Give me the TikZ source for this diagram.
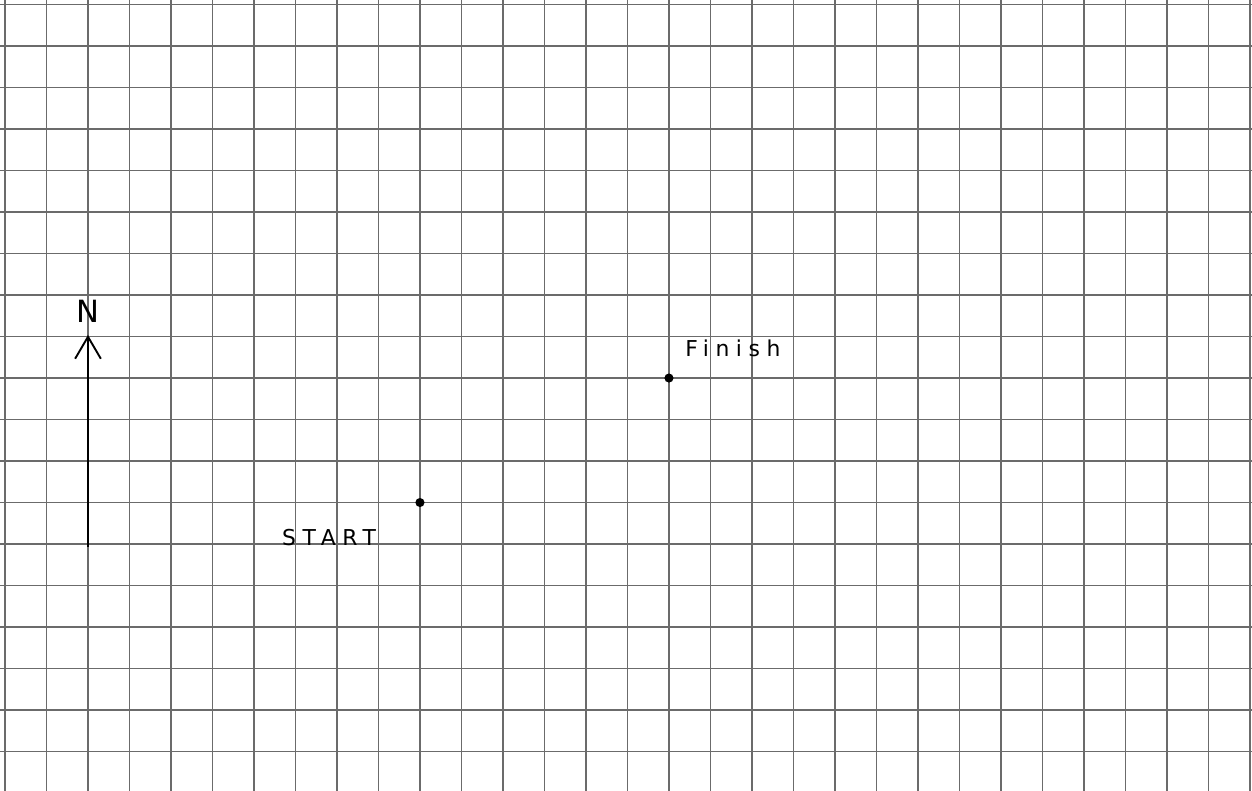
\documentclass[tikz,border=0pt]{standalone}
\usepackage{fontspec}
\setmainfont{DejaVu Sans}
\newfontfamily\handfont[LetterSpace=30]{DejaVu Sans}
\usetikzlibrary{arrows.meta, positioning}

\begin{document}
\begin{tikzpicture}[x=1cm, y=1cm,
  gridline/.style={draw=black!58, line width=1.1pt},
  pointdot/.style={circle, fill=black, inner sep=0pt, minimum size=2.2mm},
  handlabel/.style={font=\handfont\fontsize{15}{15}\selectfont, inner sep=0pt},
  northarrow/.style={-{Straight Barb[length=5.3mm, width=6.2mm, line width=1.3pt]}, line width=1.3pt}]

  % Papel cuadriculado
  \useasboundingbox (0,0) rectangle (30.17,19.06);
  \fill[white] (0,0) rectangle (30.17,19.06);
  \draw[gridline, shift={(0.12,0.95)}] (-0.12,-0.95) grid (30.05,18.11);

  % Flecha del norte
  \coordinate (tail) at (2.12,5.88);
  \coordinate (tip) at (2.12,10.99);
  \draw[northarrow] (tail) -- (tip);
  \node[font=\fontsize{21}{21}\selectfont, inner sep=0pt, above=0.28cm of tip] (north) {N};

  % Puntos de salida y llegada
  \node[pointdot] (start) at (10.12,6.95) {};
  \node[pointdot] (finish) at (16.12,9.95) {};
  \node[handlabel] (startlbl) at (7.93,6.10) {START};
  \node[handlabel] (finishlbl) at (17.66,10.66) {Finish};
\end{tikzpicture}
\end{document}
